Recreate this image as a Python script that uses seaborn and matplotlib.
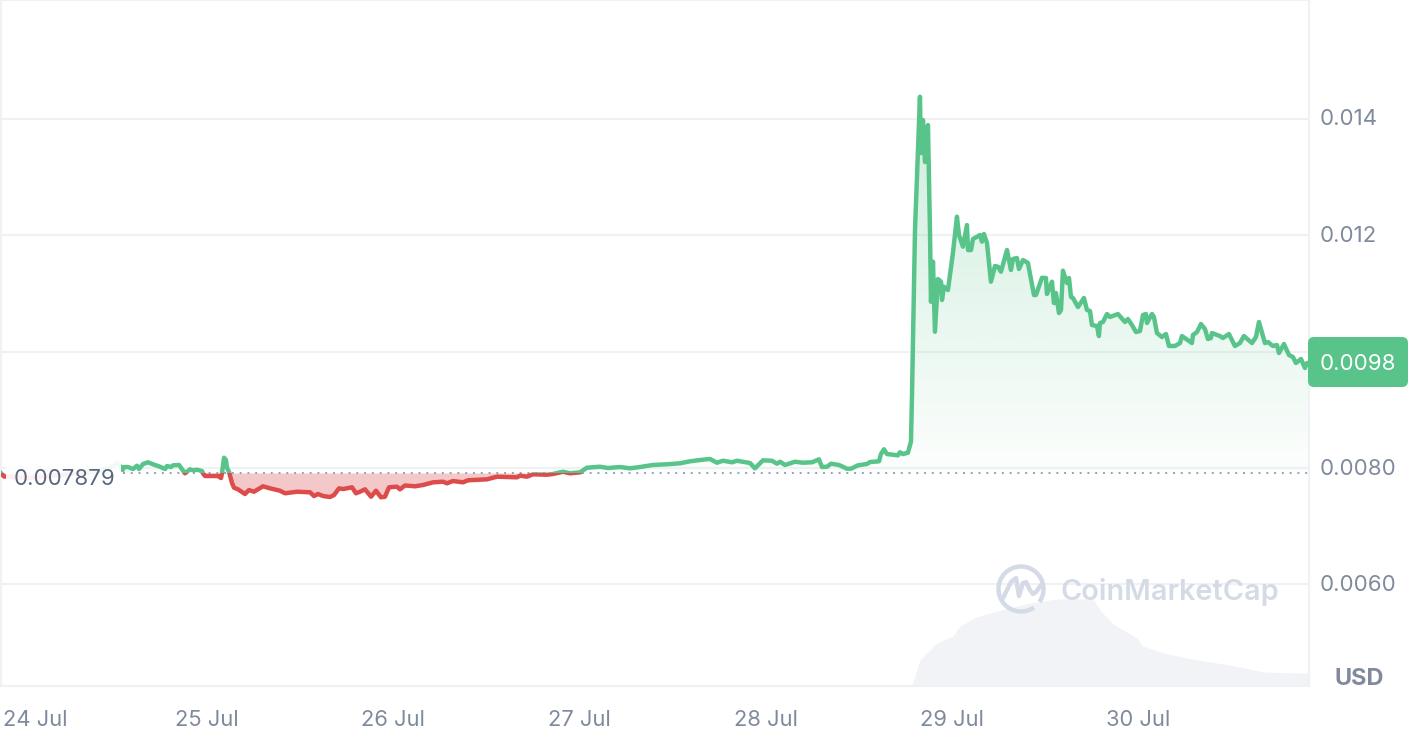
import numpy as np
import pandas as pd
import seaborn as sns
import matplotlib
matplotlib.use("Agg")
import matplotlib.pyplot as plt
from matplotlib.patches import Arc, FancyBboxPatch, Rectangle
from matplotlib.lines import Line2D
from matplotlib.path import Path
from matplotlib.transforms import IdentityTransform, ScaledTranslation

# hours since 24 Jul 00:00
hours = [
    -2.71, -2.19, 1.16, 5.03, 8.89, 11.47, 12.50, 13.11, 13.28, 13.79, 14.44, 14.95, 15.21, 15.73, 16.37,
    17.01, 17.92, 18.56, 18.82, 19.34, 19.59, 20.37, 21.14, 21.78, 22.17, 22.69, 23.33, 23.46, 23.72,
    25.39, 25.78, 25.91, 26.17, 26.42, 26.55, 26.81, 27.20, 27.46, 27.97, 28.87, 29.39, 30.03, 31.19,
    32.10, 33.39, 34.03, 35.58, 37.25, 37.77, 38.28, 38.93, 39.83, 40.35, 40.99, 41.51, 42.67, 43.18,
    43.70, 44.34, 45.12, 45.76, 46.40, 46.92, 47.44, 48.47, 48.85, 49.50, 50.79, 51.82, 53.11, 54.40,
    54.91, 55.68, 56.97, 57.62, 60.07, 61.36, 63.93, 64.32, 65.22, 66.00, 67.80, 68.57, 69.86, 70.77,
    72.06, 72.96, 74.63, 75.66, 77.21, 78.50, 79.79, 81.46, 83.27, 84.95, 86.23, 87.52, 88.81, 89.71,
    90.49, 91.65, 92.29, 93.97, 94.61, 95.64, 96.80, 97.45, 97.84, 98.48, 99.77, 100.80, 101.96, 102.86,
    103.25, 103.89, 104.41, 105.44, 106.47, 106.99, 107.89, 109.05, 109.44, 110.60, 110.85, 111.24,
    111.63, 113.05, 113.30, 113.69, 114.33, 114.72, 114.85, 115.24, 115.88, 116.01, 116.27, 116.53,
    116.91, 117.17, 117.30, 117.56, 117.81, 118.20, 118.59, 118.72, 118.97, 119.49, 120.13, 120.65,
    120.91, 121.42, 121.94, 122.07, 122.46, 122.71, 123.62, 123.87, 124.13, 124.52, 125.03, 125.55,
    125.94, 126.32, 127.10, 127.61, 127.87, 128.38, 128.64, 129.16, 129.80, 130.58, 130.83, 131.61,
    132.12, 132.25, 132.90, 133.15, 133.41, 133.80, 134.06, 134.31, 134.83, 135.09, 135.35, 135.61,
    136.25, 137.02, 137.41, 137.80, 138.05, 138.70, 138.95, 139.08, 139.47, 139.99, 140.37, 141.40,
    142.31, 142.69, 143.21, 143.72, 144.24, 144.63, 145.01, 145.14, 145.79, 146.04, 146.43, 147.07,
    147.59, 147.98, 148.75, 149.40, 149.65, 150.94, 151.07, 151.59, 152.10, 152.62, 153.00, 153.39,
    153.52, 154.55, 154.94, 155.71, 156.48, 157.13, 157.64, 158.68, 159.19, 159.58, 160.35, 160.74,
    161.38, 161.90, 162.16, 162.80, 163.45, 163.96, 164.35, 165.00, 165.51, 165.77, 166.03,
]
price = [
    0.007931, 0.007854, 0.007828, 0.007880, 0.007931, 0.008000, 0.008086, 0.007966, 0.008017, 0.008017, 0.007983, 0.008039, 0.007983, 0.008069, 0.008098,
    0.008064, 0.008022, 0.007983, 0.008034, 0.008017, 0.008046, 0.008052, 0.007909, 0.007978, 0.007960, 0.007971, 0.007948, 0.007909, 0.007863,
    0.007863, 0.007828, 0.007914, 0.008177, 0.008137, 0.008005, 0.007936, 0.007742, 0.007662, 0.007634, 0.007554, 0.007622, 0.007593, 0.007686,
    0.007651, 0.007610, 0.007566, 0.007593, 0.007583, 0.007519, 0.007554, 0.007519, 0.007502, 0.007536, 0.007651, 0.007639, 0.007669, 0.007566,
    0.007593, 0.007634, 0.007507, 0.007610, 0.007497, 0.007507, 0.007669, 0.007679, 0.007634, 0.007700, 0.007686, 0.007708, 0.007754, 0.007765,
    0.007737, 0.007777, 0.007754, 0.007789, 0.007806, 0.007851, 0.007840, 0.007868, 0.007851, 0.007892, 0.007885, 0.007897, 0.007936, 0.007909,
    0.007926, 0.008005, 0.008022, 0.008000, 0.008017, 0.007995, 0.008017, 0.008052, 0.008064, 0.008081, 0.008115, 0.008137, 0.008155, 0.008091,
    0.008125, 0.008098, 0.008125, 0.008086, 0.007995, 0.008132, 0.008125, 0.008074, 0.008108, 0.008052, 0.008108, 0.008091, 0.008098, 0.008149,
    0.008017, 0.008022, 0.008074, 0.008052, 0.007988, 0.007988, 0.008046, 0.008069, 0.008103, 0.008115, 0.008240, 0.008321,
    0.008240, 0.008218, 0.008270, 0.008240, 0.008263, 0.008452, 0.009224, 0.012086, 0.014375, 0.013409, 0.013975, 0.013254,
    0.013889, 0.012086, 0.010855, 0.011542, 0.010340, 0.011245, 0.011199, 0.010885, 0.011113, 0.011056, 0.011692, 0.012315,
    0.012001, 0.011800, 0.012172, 0.011743, 0.011743, 0.011932, 0.012001, 0.011886, 0.012018, 0.011863, 0.011199, 0.011468,
    0.011456, 0.011370, 0.011743, 0.011400, 0.011589, 0.011606, 0.011417, 0.011571, 0.011520, 0.010970, 0.010970, 0.011267,
    0.011262, 0.010988, 0.011199, 0.010833, 0.011005, 0.010661, 0.010713, 0.011388, 0.011176, 0.011262, 0.010936, 0.010919,
    0.010764, 0.010919, 0.010713, 0.010696, 0.010455, 0.010438, 0.010266, 0.010490, 0.010507, 0.010644, 0.010593, 0.010644,
    0.010507, 0.010558, 0.010455, 0.010335, 0.010352, 0.010627, 0.010644, 0.010490, 0.010644, 0.010593, 0.010318, 0.010249,
    0.010301, 0.010095, 0.010095, 0.010146, 0.010266, 0.010146, 0.010284, 0.010335, 0.010472, 0.010387, 0.010215, 0.010232,
    0.010318, 0.010266, 0.010232, 0.010301, 0.010095, 0.010146, 0.010266, 0.010146, 0.010249, 0.010507, 0.010146, 0.010163,
    0.010095, 0.010112, 0.009975, 0.010129, 0.009940, 0.009906, 0.009803, 0.009872, 0.009717, 0.009803, 0.009803,
]
vol_hours = [114.85, 115.88, 118.07, 120.13, 121.04, 123.23, 125.81, 130.06, 133.54, 138.18, 139.08, 140.76,
             143.85, 144.63, 147.21, 151.59, 155.84, 160.09, 164.86, 166.03]
volume = [0.1, 2.6, 4.3, 5.0, 6.0, 6.9, 7.5, 8.3, 8.7, 8.7, 7.6, 6.2, 4.8, 4.0, 3.3, 2.6, 2.1, 1.4, 1.3, 1.3]

y_ticks = [0.006, 0.008, 0.010, 0.012, 0.014]
y_labels = ["0.0060", "0.0080", "", "0.012", "0.014"]
x_ticks = [0, 24, 48, 72, 96, 120, 144]
x_labels = ["24 Jul", "25 Jul", "26 Jul", "27 Jul", "28 Jul", "29 Jul", "30 Jul"]
base_price = 0.007906

GREEN = "#58c48a"
RED = "#dd4b4b"
GRID = "#eff2f5"
TICK = "#808a9d"

sns.set_theme(style="white")
plt.rcParams["font.family"] = ["Inter", "DejaVu Sans"]

df = pd.DataFrame({"hours": hours, "price": price})
h = np.array(hours)
p = np.array(price)

fig = plt.figure(figsize=(14.14, 7.44), dpi=100)
ax = fig.add_axes([1 / 1414, 58 / 744, 1308 / 1414, 686 / 744])
xlim = (-2.58, 166.03)
ylim = (0.004257, 0.016036)

ax_vol = ax.twinx()
ax_vol.fill_between(vol_hours, volume, 0, color="#f1f3f7", lw=0)
ax_vol.set_ylim(0, 68.6)
ax_vol.axis("off")
ax_vol.set_zorder(0)
ax.set_zorder(1)
ax.patch.set_visible(False)

for v in y_ticks:
    ax.axhline(v, color=GRID, lw=1.5, zorder=0)

# gradient under the green part, clipped to the area between line and base
up = ax.fill_between(h, p, base_price, where=p >= base_price, interpolate=True, facecolor="none", lw=0)
fade = np.zeros((256, 1, 4))
fade[..., 0], fade[..., 1], fade[..., 2] = matplotlib.colors.to_rgb(GREEN)
fade[:, 0, 3] = np.linspace(0.30, 0.02, 256)
im = ax.imshow(fade, aspect="auto", extent=(xlim[0], xlim[1], base_price, 0.0144), zorder=1, origin="upper")
im.set_clip_path(Path.make_compound_path(*up.get_paths()), ax.transData)

ax.fill_between(h, p, base_price, where=p <= base_price, interpolate=True, color=RED, alpha=0.3, lw=0, zorder=1)

ax.set_xlim(xlim)
ax.set_ylim(ylim)

# one line per colour, each clipped to its side of the base price
above = Rectangle((xlim[0], base_price), xlim[1] - xlim[0], ylim[1] - base_price, transform=ax.transData)
below = Rectangle((xlim[0], ylim[0]), xlim[1] - xlim[0], base_price - ylim[0], transform=ax.transData)
for color, clip in [(GREEN, above), (RED, below)]:
    sns.lineplot(data=df, x="hours", y="price", ax=ax, color=color, lw=3.2, estimator=None,
                 errorbar=None, sort=False, zorder=3)
    ax.lines[-1].set_clip_path(clip)
    ax.lines[-1].set_solid_joinstyle("round")

ax.plot([13.1, xlim[1]], [base_price, base_price], color="#97a1b3", lw=1.4, ls=(0, (1, 3)), zorder=2)

ax.set_xlabel("")
ax.set_ylabel("")
ax.set_xticks(x_ticks)
ax.set_xticklabels(x_labels)
ax.set_yticks(y_ticks)
ax.set_yticklabels(y_labels)
ax.yaxis.tick_right()
ax.tick_params(axis="x", length=0, pad=17, labelsize=15.8, labelcolor=TICK)
ax.tick_params(axis="y", length=0, pad=8, labelsize=16, labelcolor=TICK)
first = ax.get_xticklabels()[0]
first.set_transform(first.get_transform() + ScaledTranslation(0.14, 0, fig.dpi_scale_trans))
for lab in ax.get_yticklabels():
    lab.set_transform(lab.get_transform() + ScaledTranslation(0, 0.015, fig.dpi_scale_trans))

for side in ax.spines.values():
    side.set_color(GRID)
    side.set_linewidth(1.5)
for side in ax_vol.spines.values():
    side.set_visible(False)

# label box for the start price, hides the line behind it
fig.add_artist(Rectangle((6, 744 - 494), 115, 36, transform=IdentityTransform(), facecolor="white",
                         alpha=0.92, lw=0, zorder=4))
fig.text(14 / 1414, 1 - 479 / 744, "0.007879", color="#58667e", fontsize=16, va="center", ha="left", zorder=6)

# last price badge
fig.add_artist(FancyBboxPatch((1314, 744 - 381), 88, 38, boxstyle="round,pad=6,rounding_size=6",
                              transform=IdentityTransform(), facecolor=GREEN, lw=0, zorder=5))
fig.text(1358 / 1414, 1 - 364 / 744, "0.0098", color="white", fontsize=16, ha="center", va="center", zorder=6)

fig.text(1359 / 1414, 1 - 679 / 744, "USD", color=TICK, fontsize=17, fontweight="bold", ha="center", va="center", zorder=6)

# watermark
MARK = "#d5dbe6"
fig.text(1060 / 1414, 1 - 592 / 744, "CoinMarketCap", color=MARK, fontsize=20.8, fontweight="semibold",
         ha="left", va="center", zorder=6)
fig.add_artist(Arc((1021, 744 - 589), 45, 45, theta1=-35, theta2=305, color=MARK, lw=3.2,
                   transform=IdentityTransform(), zorder=6))
fig.add_artist(Line2D([1003, 1011, 1016, 1019, 1023, 1026, 1030, 1033, 1036, 1041],
                      [744 - 598, 744 - 582, 744 - 578, 744 - 596, 744 - 583, 744 - 582, 744 - 590, 744 - 594, 744 - 592, 744 - 585],
                      color=MARK, lw=3.2, transform=IdentityTransform(), zorder=6, solid_capstyle="round"))

fig.savefig("out.png", dpi=100)
